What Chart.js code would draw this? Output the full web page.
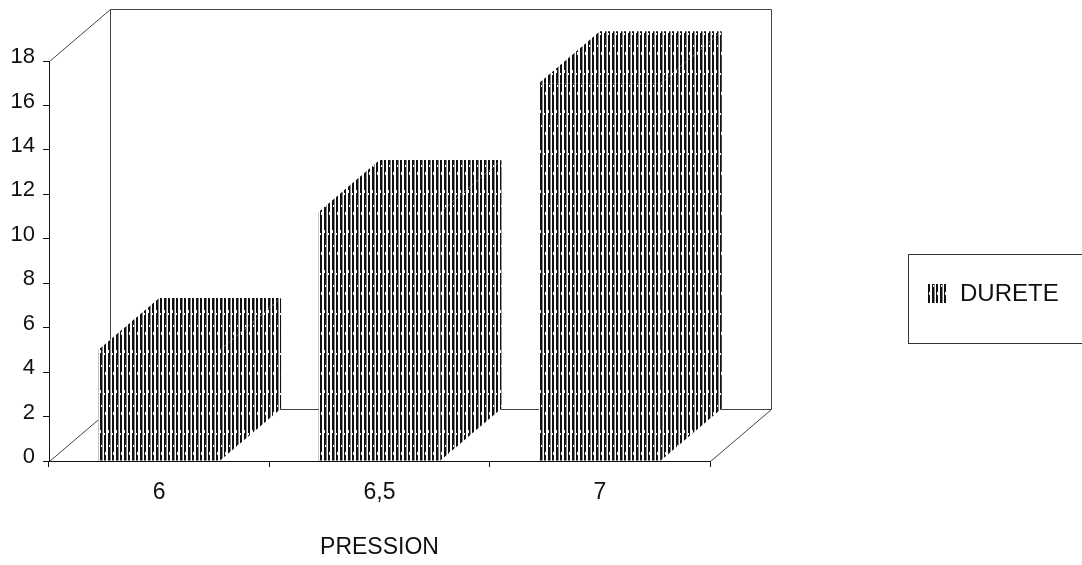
<!DOCTYPE html>
<html><head><meta charset="utf-8">
<script src="https://cdn.jsdelivr.net/npm/chart.js@4.4.0/dist/chart.umd.min.js"></script>
<style>html,body{margin:0;padding:0;background:#fff;}#wrap{width:1082px;height:565px;position:relative}</style>
</head><body><div id="wrap"><canvas id="c" width="1082" height="565"></canvas></div>
<script>
// ---- data ----
const categories = ['6', '6,5', '7'];
const dureteValues = [5, 11.2, 17];
const yTickValues = [0, 2, 4, 6, 8, 10, 12, 14, 16, 18];
const seriesLabel = 'DURETE';
const xTitle = 'PRESSION';

// ---- style ----
const DX = 61, DY = -52;
const INK = '#111';
const canvas = document.getElementById('c');
const mainCtx = canvas.getContext('2d');

function makePattern() {
  const t = document.createElement('canvas');
  t.width = 8; t.height = 40;
  const g = t.getContext('2d');
  g.fillStyle = '#fff'; g.fillRect(0, 0, 8, 40);
  g.fillStyle = '#111';
  g.fillRect(0, 0, 2, 40);
  g.fillRect(4, 0, 2, 40);
  g.fillStyle = '#888';
  g.fillRect(6, 0, 1, 40);
  g.fillStyle = '#fff';
  g.fillRect(1, 12, 1, 3); g.fillRect(4, 30, 1, 3); g.fillRect(0, 33, 1, 2); g.fillRect(5, 5, 1, 2);
  return mainCtx.createPattern(t, 'repeat');
}
const hatch = makePattern();

Chart.defaults.font.family = '"Liberation Sans", Arial, sans-serif';
Chart.defaults.color = INK;

function line(ctx, x1, y1, x2, y2) {
  ctx.beginPath(); ctx.moveTo(x1, y1); ctx.lineTo(x2, y2); ctx.stroke();
}
function poly(ctx, pts) {
  ctx.beginPath();
  ctx.moveTo(pts[0][0], pts[0][1]);
  for (let i = 1; i < pts.length; i++) ctx.lineTo(pts[i][0], pts[i][1]);
  ctx.closePath();
  ctx.fillStyle = '#fff'; ctx.fill();
  ctx.fillStyle = hatch; ctx.fill();
}

const threeD = {
  id: 'threeD',
  beforeDatasetsDraw(chart) {
    const ctx = chart.ctx, a = chart.chartArea;
    const L = a.left + 0.5, R = a.right + 0.5, T = Math.round(a.top) + 0.5, B = Math.round(a.bottom) + 0.5;
    ctx.save();
    ctx.strokeStyle = '#444'; ctx.lineWidth = 1;
    line(ctx, L, T, L + DX, T + DY);
    line(ctx, L + DX, T + DY, R + DX, T + DY);
    line(ctx, L + DX, T + DY, L + DX, B + DY);
    line(ctx, R + DX, T + DY, R + DX, B + DY);
    line(ctx, L + DX, B + DY, R + DX, B + DY);
    line(ctx, L, B, L + DX, B + DY);
    line(ctx, R, B, R + DX, B + DY);
    const meta = chart.getDatasetMeta(0);
    meta.data.forEach(bar => {
      const p = bar.getProps(['x', 'y', 'base', 'width'], true);
      const l = p.x - p.width / 2, r = p.x + p.width / 2;
      poly(ctx, [[r, p.y], [r + DX, p.y + DY], [r + DX, p.base + DY], [r, p.base]]);
      poly(ctx, [[l, p.y], [l + DX, p.y + DY], [r + DX, p.y + DY], [r, p.y]]);
      ctx.strokeStyle = INK;
      line(ctx, Math.round(l) + 0.5, p.y, Math.round(l) + 0.5, p.base);
    });
    ctx.restore();
  },
  afterDraw(chart) {
    const ctx = chart.ctx;
    ctx.save();
    ctx.strokeStyle = '#333'; ctx.lineWidth = 1;
    ctx.strokeRect(908.5, 254.5, 200, 89);
    ctx.fillStyle = '#fff'; ctx.fillRect(927, 284, 21, 19);
    ctx.fillStyle = hatch; ctx.fillRect(927, 284, 21, 19);
    ctx.fillStyle = INK;
    ctx.font = '24px "Liberation Sans", Arial, sans-serif';
    ctx.textBaseline = 'middle'; ctx.textAlign = 'left';
    ctx.fillText(chart.data.datasets[0].label, 960, 294);
    ctx.restore();
  }
};

new Chart(canvas, {
  type: 'bar',
  data: {
    labels: categories,
    datasets: [{
      label: seriesLabel,
      data: dureteValues,
      backgroundColor: hatch,
      borderWidth: 0,
      barPercentage: 0.553,
      categoryPercentage: 1
    }]
  },
  options: {
    responsive: false,
    animation: false,
    devicePixelRatio: 1,
    layout: { padding: { left: 0, right: 372, top: 61, bottom: 0 } },
    plugins: { legend: { display: false }, tooltip: { enabled: false } },
    scales: {
      x: {
        offset: true,
        grid: { display: true, offset: true, drawOnChartArea: false, drawTicks: true, tickLength: 6, color: INK },
        border: { display: true, color: INK, width: 1 },
        ticks: { font: { size: 23 }, padding: 12, color: INK, maxRotation: 0 },
        title: { display: true, text: xTitle, font: { size: 23 }, padding: { top: 0, bottom: 4 }, color: INK },
        afterFit(s) { s.height = 104; }
      },
      y: {
        min: 0, max: 18,
        afterBuildTicks(s) { s.ticks = yTickValues.map(v => ({ value: v })); },
        grid: { display: true, drawOnChartArea: false, drawTicks: true, tickLength: 6, color: INK },
        border: { display: true, color: INK, width: 1 },
        ticks: { font: { size: 22 }, padding: 8, color: INK, labelOffset: -4 },
        afterFit(s) { s.width = 49; }
      }
    }
  },
  plugins: [threeD]
});
</script></body></html>
